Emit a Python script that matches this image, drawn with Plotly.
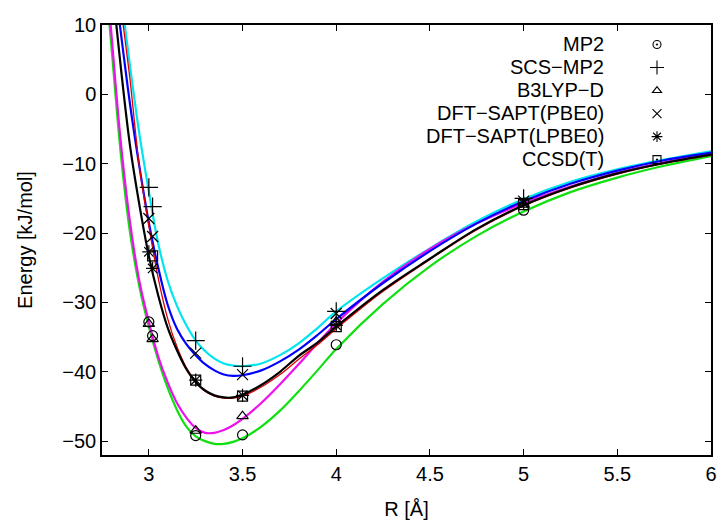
import plotly.graph_objects as go

# ---------------- data ----------------
methods = ["MP2", "SCS−MP2", "B3LYP−D", "DFT−SAPT(PBE0)", "DFT−SAPT(LPBE0)", "CCSD(T)"]

# computed points
R_pts = [3.0, 3.02, 3.25, 3.5, 4.0, 5.0]
E_mp2 = [-32.8, -34.8, -49.2, -49.1, -36.1, -16.7]
E_scs = [-13.4, -16.2, -35.5, -39.2, -31.3, -15.0]
E_b3lyp = [-33.1, -35.3, -48.5, -46.4, -32.8, -15.9]
E_pbe0 = [-17.9, -20.5, -37.3, -40.4, -31.6, -15.4]
E_lpbe0 = [-22.7, -25.1, -41.2, -43.4, -33.3, -15.7]
E_ccsdt = [None, -23.3, -41.2, -43.5, -33.5, -15.9]

# fitted curves
R_fit = [2.78, 2.80, 2.85, 2.90, 2.95, 3.00, 3.05, 3.10, 3.15, 3.20, 3.25, 3.30, 3.35,
         3.40, 3.45, 3.50, 3.60, 3.70, 3.80, 3.90, 4.00, 4.25, 4.50, 4.75, 5.00, 5.25,
         5.50, 5.75, 6.00]
F_mp2 = [13.0, 7.0, -8.5, -20.0, -27.8, -33.5, -38.3, -42.3, -45.5, -47.9, -49.3, -50.0,
         -50.4, -50.4, -50.1, -49.6, -47.9, -45.6, -42.8, -39.8, -36.7, -30.2, -24.8,
         -20.4, -16.9, -14.1, -12.0, -10.3, -8.9]
F_scs = [36.0, 30.0, 15.0, 4.0, -5.8, -14.0, -21.5, -26.8, -30.5, -33.3, -35.5, -37.0,
         -38.1, -38.8, -39.1, -39.2, -38.8, -37.6, -35.9, -33.7, -31.3, -26.5, -22.2,
         -18.3, -15.1, -12.6, -10.8, -9.4, -8.2]
F_b3lyp = [15.0, 8.8, -6.8, -18.5, -27.0, -32.8, -37.8, -41.5, -44.5, -46.6, -48.1, -48.8,
           -48.8, -48.4, -47.7, -46.8, -44.5, -41.8, -38.9, -35.9, -33.0, -27.0, -22.3,
           -18.6, -15.7, -13.3, -11.3, -9.8, -8.5]
F_pbe0 = [26.0, 20.0, 9.0, -1.5, -10.5, -18.5, -25.0, -30.3, -33.8, -36.0, -37.6, -38.9,
          -39.8, -40.4, -40.6, -40.5, -39.8, -38.5, -36.8, -34.7, -32.4, -27.2, -22.6,
          -18.6, -15.4, -12.9, -11.0, -9.5, -8.4]
F_lpbe0 = [33.0, 27.0, 13.0, 2.0, -10.5, -19.0, -26.5, -32.3, -36.4, -39.4, -41.4, -42.8,
           -43.5, -43.8, -43.8, -43.5, -42.2, -40.4, -38.2, -36.1, -33.8, -28.4, -23.8,
           -19.5, -16.1, -13.5, -11.5, -9.95, -8.75]
F_ccsdt = [22.0, 17.0, 4.0, -7.5, -16.0, -23.3, -29.0, -33.6, -36.9, -39.6, -41.5, -42.7,
           -43.4, -43.7, -43.7, -43.3, -41.9, -40.0, -37.7, -35.8, -33.5, -28.2, -23.7,
           -19.4, -16.0, -13.4, -11.4, -9.9, -8.7]

curve_colors = ["#10e010", "#00e5ee", "#ee10ee", "#0000ff", "#e00000", "#000000"]
curve_widths = [2.2, 2.2, 2.2, 2.2, 1.3, 2.2]
symbols = ["circle-open", "cross-thin-open", "triangle-up-open", "x-thin-open",
           "asterisk-open", "square-open"]
sym_sizes = [10, 13, 10, 11, 11, 10]
legend_symbols = ["circle-open-dot", "cross-thin-open", "triangle-up-open", "x-thin-open",
                  "asterisk-open", "square-open-dot"]
legend_sizes = [8, 10, 8, 9, 9, 8]

xticks = [3, 3.5, 4, 4.5, 5, 5.5, 6]
yticks = [-50, -40, -30, -20, -10, 0, 10]

pts = [E_mp2, E_scs, E_b3lyp, E_pbe0, E_lpbe0, E_ccsdt]
fits = [F_mp2, F_scs, F_b3lyp, F_pbe0, F_lpbe0, F_ccsdt]

FONT = "Liberation Sans, Arial, Helvetica, sans-serif"
FS = 20

fig = go.Figure()

for i in range(len(methods)):
    fig.add_trace(go.Scatter(
        x=R_fit, y=fits[i], mode="lines", line=dict(color=curve_colors[i], width=curve_widths[i],
                                                    shape="spline", smoothing=1.0),
        showlegend=False, hoverinfo="skip"))

for i in range(len(methods)):
    fig.add_trace(go.Scatter(
        x=R_pts, y=pts[i], mode="markers", name=methods[i],
        marker=dict(symbol=symbols[i], size=sym_sizes[i], color="black",
                    line=dict(color="black", width=1.2)),
        showlegend=False))

# legend key symbols (legend-only traces, no data)
for i in range(len(methods)):
    fig.add_trace(go.Scatter(
        x=[None], y=[None], mode="markers", name=" ",
        marker=dict(symbol=legend_symbols[i], size=legend_sizes[i], color="black",
                    line=dict(color="black", width=1.1)),
        showlegend=True))

# legend labels (right aligned, gnuplot style)
L, R, T, B = 102, 11, 25, 70
W, H = 722, 525
pw, ph = W - L - R, H - T - B
text_right_px = 606
row0_px = 43.5
row_step = 23.0
for k, name in enumerate(methods):
    ypx = row0_px + k * row_step
    fig.add_annotation(text=name, xref="paper", yref="paper",
                       x=(text_right_px - L) / pw, y=(H - B - ypx) / ph,
                       xanchor="right", yanchor="middle", showarrow=False,
                       font=dict(family=FONT, size=FS, color="black"))

fig.update_layout(
    width=W, height=H,
    margin=dict(l=L, r=R, t=T, b=B, pad=0, autoexpand=False),
    paper_bgcolor="white", plot_bgcolor="white",
    font=dict(family=FONT, size=FS, color="black"),
    showlegend=True,
    legend=dict(x=(637 - L) / pw, y=(H - B - 28) / ph, xanchor="left", yanchor="top",
                bgcolor="rgba(0,0,0,0)", borderwidth=0, font=dict(size=15.4),
                tracegroupgap=0, itemsizing="trace"),
)
fig.update_xaxes(range=[2.75, 6], tickvals=xticks, ticktext=[f"{v:g}" for v in xticks],
                 ticks="inside", ticklen=6, tickwidth=1.2, tickcolor="black",
                 showline=True, linecolor="black", linewidth=1.5, mirror="allticks",
                 showgrid=False, zeroline=False, automargin=False,
                 title=dict(text="R [Å]", font=dict(size=FS), standoff=18),
                 tickfont=dict(size=FS))
fig.update_yaxes(range=[-52, 10], tickvals=yticks,
                 ticks="inside", ticklen=6, tickwidth=1.2, tickcolor="black",
                 showline=True, linecolor="black", linewidth=1.5, mirror="allticks",
                 showgrid=False, zeroline=False, automargin=False,
                 title=dict(text="Energy [kJ/mol]", font=dict(size=FS), standoff=24),
                 tickfont=dict(size=FS))

fig.write_html("out.html")
